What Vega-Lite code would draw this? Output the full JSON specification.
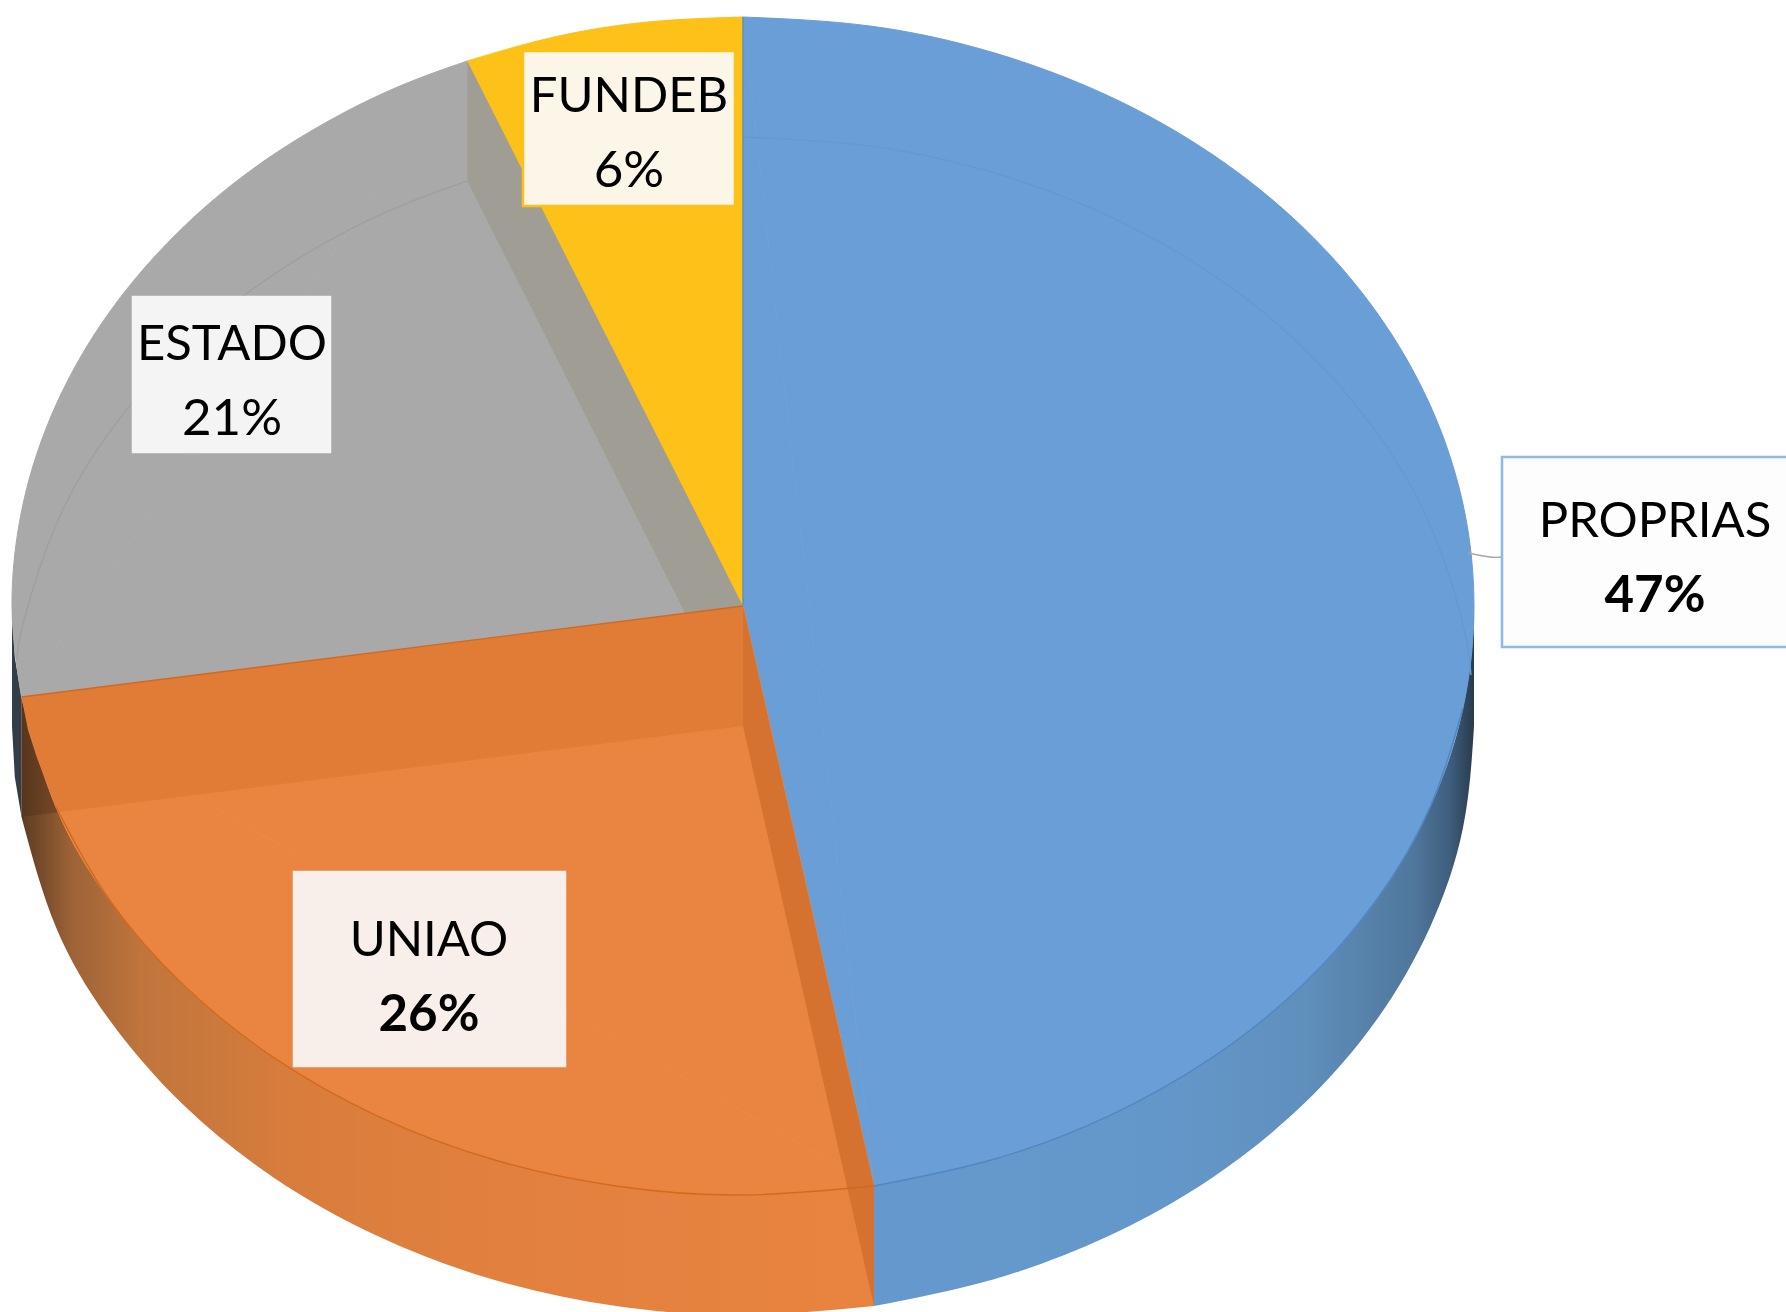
{"$schema":"https://vega.github.io/schema/vega-lite/v6.json","width":1786,"height":1312,"autosize":{"type":"none"},"padding":0,"background":"#ffffff","config":{"view":{"stroke":null}},
"resolve":{"scale":{"fill":"independent","stroke":"independent"}},
"datasets":{
"walls":[
{"part":"ESTADO","x":12,"y":606,"y2":726},{"part":"ESTADO","x":14.8,"y":657,"y2":777},{"part":"ESTADO","x":21.5,"y":697,"y2":817},
{"part":"UNIAO","x":21.5,"y":697,"y2":817},{"part":"UNIAO","x":56.1,"y":807.4,"y2":927.4},{"part":"UNIAO","x":109.9,"y":900.5,"y2":1020.5},{"part":"UNIAO","x":183,"y":984.6,"y2":1104.6},{"part":"UNIAO","x":273.1,"y":1057.2,"y2":1177.2},{"part":"UNIAO","x":377.5,"y":1116.1,"y2":1236.1},{"part":"UNIAO","x":493,"y":1159.5,"y2":1279.5},{"part":"UNIAO","x":616.1,"y":1186,"y2":1306},{"part":"UNIAO","x":743,"y":1195,"y2":1315},{"part":"UNIAO","x":874,"y":1186,"y2":1306},
{"part":"PROPRIAS","x":874,"y":1186,"y2":1306},{"part":"PROPRIAS","x":993,"y":1159.5,"y2":1279.5},{"part":"PROPRIAS","x":1108.5,"y":1116.1,"y2":1236.1},{"part":"PROPRIAS","x":1212.9,"y":1057.2,"y2":1177.2},{"part":"PROPRIAS","x":1303,"y":984.6,"y2":1104.6},{"part":"PROPRIAS","x":1376.1,"y":900.5,"y2":1020.5},{"part":"PROPRIAS","x":1429.9,"y":807.4,"y2":927.4},{"part":"PROPRIAS","x":1462.9,"y":708.3,"y2":828.3},{"part":"PROPRIAS","x":1474,"y":606,"y2":726}],
"arcs":[
{"part":"PROPRIAS","seq":1,"x":743,"y":17},{"part":"PROPRIAS","seq":2,"x":869.9,"y":26},{"part":"PROPRIAS","seq":3,"x":993,"y":52.5},{"part":"PROPRIAS","seq":4,"x":1108.5,"y":95.9},{"part":"PROPRIAS","seq":5,"x":1212.9,"y":154.8},{"part":"PROPRIAS","seq":6,"x":1303,"y":227.4},{"part":"PROPRIAS","seq":7,"x":1376.1,"y":311.5},{"part":"PROPRIAS","seq":8,"x":1429.9,"y":404.6},{"part":"PROPRIAS","seq":9,"x":1462.9,"y":503.7},{"part":"PROPRIAS","seq":10,"x":1474,"y":606},{"part":"PROPRIAS","seq":11,"x":1462.9,"y":708.3},{"part":"PROPRIAS","seq":12,"x":1429.9,"y":807.4},{"part":"PROPRIAS","seq":13,"x":1376.1,"y":900.5},{"part":"PROPRIAS","seq":14,"x":1303,"y":984.6},{"part":"PROPRIAS","seq":15,"x":1212.9,"y":1057.2},{"part":"PROPRIAS","seq":16,"x":1108.5,"y":1116.1},{"part":"PROPRIAS","seq":17,"x":993,"y":1159.5},{"part":"PROPRIAS","seq":18,"x":874,"y":1186},
{"part":"UNIAO","seq":1,"x":874,"y":1186},{"part":"UNIAO","seq":2,"x":743,"y":1195},{"part":"UNIAO","seq":3,"x":616.1,"y":1186},{"part":"UNIAO","seq":4,"x":493,"y":1159.5},{"part":"UNIAO","seq":5,"x":377.5,"y":1116.1},{"part":"UNIAO","seq":6,"x":273.1,"y":1057.2},{"part":"UNIAO","seq":7,"x":183,"y":984.6},{"part":"UNIAO","seq":8,"x":109.9,"y":900.5},{"part":"UNIAO","seq":9,"x":56.1,"y":807.4},{"part":"UNIAO","seq":10,"x":21.5,"y":697},
{"part":"ESTADO","seq":1,"x":21.5,"y":697},{"part":"ESTADO","seq":2,"x":12,"y":606},{"part":"ESTADO","seq":3,"x":23.1,"y":503.7},{"part":"ESTADO","seq":4,"x":56.1,"y":404.6},{"part":"ESTADO","seq":5,"x":109.9,"y":311.5},{"part":"ESTADO","seq":6,"x":183,"y":227.4},{"part":"ESTADO","seq":7,"x":273.1,"y":154.8},{"part":"ESTADO","seq":8,"x":377.5,"y":95.9},{"part":"ESTADO","seq":9,"x":467.3,"y":61},
{"part":"FUNDEB","seq":1,"x":467.3,"y":61},{"part":"FUNDEB","seq":2,"x":553.8,"y":37.1},{"part":"FUNDEB","seq":3,"x":647.6,"y":22},{"part":"FUNDEB","seq":4,"x":743,"y":17}],
"wedges":[
{"part":"PROPRIAS","seq":1,"x":743,"y":606},{"part":"PROPRIAS","seq":2,"x":743,"y":17},{"part":"PROPRIAS","seq":3,"x":874,"y":1186},
{"part":"UNIAO","seq":1,"x":743,"y":606},{"part":"UNIAO","seq":2,"x":874,"y":1186},{"part":"UNIAO","seq":3,"x":21.5,"y":697},
{"part":"ESTADO","seq":1,"x":743,"y":606},{"part":"ESTADO","seq":2,"x":21.5,"y":697},{"part":"ESTADO","seq":3,"x":467.3,"y":61},
{"part":"FUNDEB","seq":1,"x":743,"y":606},{"part":"FUNDEB","seq":2,"x":467.3,"y":61},{"part":"FUNDEB","seq":3,"x":743,"y":17}],
"strips":[
{"part":"UNIAO band","seq":1,"x":743,"y":606},{"part":"UNIAO band","seq":2,"x":21.5,"y":697},{"part":"UNIAO band","seq":3,"x":28,"y":730},{"part":"UNIAO band","seq":4,"x":37,"y":758},{"part":"UNIAO band","seq":5,"x":56.1,"y":807.4},{"part":"UNIAO band","seq":6,"x":60,"y":812},{"part":"UNIAO band","seq":7,"x":743,"y":726},
{"part":"UNIAO edge","seq":1,"x":743,"y":606},{"part":"UNIAO edge","seq":2,"x":874,"y":1186},{"part":"UNIAO edge","seq":3,"x":874,"y":1306},{"part":"UNIAO edge","seq":4,"x":743,"y":726},
{"part":"ESTADO edge","seq":1,"x":467.3,"y":61},{"part":"ESTADO edge","seq":2,"x":467.3,"y":181},{"part":"ESTADO edge","seq":3,"x":685,"y":613},{"part":"ESTADO edge","seq":4,"x":743,"y":606}],
"shade":[{"part":"UNIAO shade","seq":1,"x":21.5,"y":697},{"part":"UNIAO shade","seq":2,"x":56.1,"y":807.4},{"part":"UNIAO shade","seq":3,"x":60,"y":812},{"part":"UNIAO shade","seq":4,"x":21.5,"y":817}],
"edges":[
{"part":"rear blue","seq":1,"x":743,"y":137},{"part":"rear blue","seq":2,"x":869.9,"y":146},{"part":"rear blue","seq":3,"x":993,"y":172.5},{"part":"rear blue","seq":4,"x":1108.5,"y":215.9},{"part":"rear blue","seq":5,"x":1212.9,"y":274.8},{"part":"rear blue","seq":6,"x":1303,"y":347.4},{"part":"rear blue","seq":7,"x":1376.1,"y":431.5},{"part":"rear blue","seq":8,"x":1429.9,"y":524.6},{"part":"rear blue","seq":9,"x":1462.9,"y":623.7},{"part":"rear blue","seq":10,"x":1471,"y":675},
{"part":"rear gray","seq":1,"x":467.3,"y":181},{"part":"rear gray","seq":2,"x":377.5,"y":215.9},{"part":"rear gray","seq":3,"x":273.1,"y":274.8},{"part":"rear gray","seq":4,"x":183,"y":347.4},{"part":"rear gray","seq":5,"x":109.9,"y":431.5},{"part":"rear gray","seq":6,"x":56.1,"y":524.6},{"part":"rear gray","seq":7,"x":23.1,"y":623.7},{"part":"rear gray","seq":8,"x":17,"y":660},
{"part":"front blue","seq":1,"x":874,"y":1186},{"part":"front blue","seq":2,"x":993,"y":1159.5},{"part":"front blue","seq":3,"x":1108.5,"y":1116.1},{"part":"front blue","seq":4,"x":1212.9,"y":1057.2},{"part":"front blue","seq":5,"x":1303,"y":984.6},{"part":"front blue","seq":6,"x":1376.1,"y":900.5},{"part":"front blue","seq":7,"x":1429.9,"y":807.4},{"part":"front blue","seq":8,"x":1462.9,"y":708.3},
{"part":"front orange","seq":1,"x":874,"y":1186},{"part":"front orange","seq":2,"x":743,"y":1195},{"part":"front orange","seq":3,"x":616.1,"y":1186},{"part":"front orange","seq":4,"x":493,"y":1159.5},{"part":"front orange","seq":5,"x":377.5,"y":1116.1},{"part":"front orange","seq":6,"x":273.1,"y":1057.2},{"part":"front orange","seq":7,"x":183,"y":984.6},{"part":"front orange","seq":8,"x":109.9,"y":900.5},{"part":"front orange","seq":9,"x":56.1,"y":807.4},
{"part":"seam orange","seq":1,"x":21.5,"y":697},{"part":"seam orange","seq":2,"x":743,"y":606},
{"part":"seam blue","seq":1,"x":743,"y":17},{"part":"seam blue","seq":2,"x":743,"y":606},
{"part":"leader","seq":1,"x":1468,"y":553},{"part":"leader","seq":2,"x":1490,"y":557},{"part":"leader","seq":3,"x":1502,"y":557}],
"labels":[
{"name":"PROPRIAS","share":"47%","bold":true,"x":1502,"x2":1792,"y":457,"y2":647,"cx":1655,"nameY":537,"shareY":612},
{"name":"UNIAO","share":"26%","bold":true,"x":294,"x2":565,"y":872,"y2":1066,"cx":429,"nameY":956,"shareY":1031},
{"name":"ESTADO","share":"21%","bold":false,"x":133,"x2":330,"y":297,"y2":452,"cx":232,"nameY":360,"shareY":435},
{"name":"FUNDEB","share":"6%","bold":false,"x":523,"x2":735,"y":51,"y2":206,"cx":629,"nameY":112,"shareY":187}]
},
"encoding":{"x":{"field":"x","type":"quantitative","scale":{"domain":[0,1786],"nice":false,"zero":false},"axis":null},"y":{"field":"y","type":"quantitative","scale":{"domain":[0,1312],"reverse":true,"nice":false,"zero":false},"axis":null}},
"layer":[
{"data":{"name":"walls"},"transform":[{"filter":"datum.part==='ESTADO'"}],"mark":{"type":"area","color":"#333d47"},"encoding":{"y2":{"field":"y2"}}},
{"data":{"name":"walls"},"transform":[{"filter":"datum.part==='UNIAO'"}],"mark":{"type":"area","interpolate":"natural","color":{"gradient":"linear","x1":0,"y1":0,"x2":1,"y2":0,"stops":[{"offset":0,"color":"#5d3c22"},{"offset":0.057,"color":"#9c6236"},{"offset":0.14,"color":"#c0753d"},{"offset":0.325,"color":"#d97d3c"},{"offset":0.56,"color":"#e2803e"},{"offset":1,"color":"#e8843f"}]}},"encoding":{"y2":{"field":"y2"}}},
{"data":{"name":"walls"},"transform":[{"filter":"datum.part==='PROPRIAS'"}],"mark":{"type":"area","interpolate":"natural","color":{"gradient":"linear","x1":0,"y1":0,"x2":1,"y2":0,"stops":[{"offset":0,"color":"#6598cc"},{"offset":0.5,"color":"#6497c9"},{"offset":0.72,"color":"#5f8fbc"},{"offset":0.9,"color":"#50779c"},{"offset":0.96,"color":"#3e5e7d"},{"offset":1,"color":"#2a3a4c"}]}},"encoding":{"y2":{"field":"y2"}}},
{"data":{"name":"shade"},"mark":{"type":"line","fill":"#4a2c14","strokeWidth":0,"opacity":0.35},"encoding":{"detail":{"field":"part"},"order":{"field":"seq"}}},
{"data":{"name":"arcs"},"mark":{"type":"line","interpolate":"natural","strokeWidth":1},"encoding":{"detail":{"field":"part"},"order":{"field":"seq"},"fill":{"field":"part","scale":{"domain":["PROPRIAS","UNIAO","ESTADO","FUNDEB"],"range":["#6a9ed6","#e98540","#a9a9a9","#fdc118"]},"legend":null},"stroke":{"field":"part","scale":{"domain":["PROPRIAS","UNIAO","ESTADO","FUNDEB"],"range":["#6a9ed6","#e98540","#a9a9a9","#fdc118"]},"legend":null}}},
{"data":{"name":"wedges"},"mark":{"type":"line","strokeWidth":1},"encoding":{"detail":{"field":"part"},"order":{"field":"seq"},"fill":{"field":"part","scale":{"domain":["PROPRIAS","UNIAO","ESTADO","FUNDEB"],"range":["#6a9ed6","#e98540","#a9a9a9","#fdc118"]},"legend":null},"stroke":{"field":"part","scale":{"domain":["PROPRIAS","UNIAO","ESTADO","FUNDEB"],"range":["#6a9ed6","#e98540","#a9a9a9","#fdc118"]},"legend":null}}},
{"data":{"name":"strips"},"mark":{"type":"line","strokeWidth":0},"encoding":{"detail":{"field":"part"},"order":{"field":"seq"},"fill":{"field":"part","scale":{"domain":["UNIAO band","UNIAO edge","ESTADO edge"],"range":["#e07c36","#d5722f","#a09e94"]},"legend":null}}},
{"data":{"name":"edges"},"mark":{"type":"line","interpolate":"natural","strokeWidth":1.4},"encoding":{"detail":{"field":"part"},"order":{"field":"seq"},"stroke":{"field":"part","scale":{"domain":["rear blue","rear gray","front blue","front orange","seam orange","seam blue","leader"],"range":["#629ad2","#9f9f9f","#4f87c4","#d2691f","#d2691f","#5f90b8","#a6a6a6"]},"legend":null}}},
{"data":{"name":"labels"},"mark":{"type":"rect","color":"#000000","opacity":0.08,"xOffset":5,"yOffset":7,"clip":true},"encoding":{"x2":{"field":"x2"},"y2":{"field":"y2"}}},
{"data":{"name":"labels"},"mark":{"type":"rect","color":"#000000","opacity":0.1,"xOffset":2,"yOffset":4,"clip":true},"encoding":{"x2":{"field":"x2"},"y2":{"field":"y2"}}},
{"data":{"name":"labels"},"mark":{"type":"rect","strokeWidth":2.5,"clip":true},"encoding":{"x2":{"field":"x2"},"y2":{"field":"y2"},"fill":{"field":"name","scale":{"domain":["PROPRIAS","UNIAO","ESTADO","FUNDEB"],"range":["#fdfdfd","#f9efea","#f4f4f4","#fbf6e8"]},"legend":null},"stroke":{"field":"name","scale":{"domain":["PROPRIAS","UNIAO","ESTADO","FUNDEB"],"range":["#8db9e5","#f9efea","#f4f4f4","#fdc118"]},"legend":null}}},
{"data":{"name":"labels"},"mark":{"type":"text","font":"Lato","fontSize":49,"align":"center","baseline":"alphabetic","color":"#000000"},"encoding":{"x":{"field":"cx","type":"quantitative"},"y":{"field":"nameY","type":"quantitative"},"text":{"field":"name"}}},
{"data":{"name":"labels"},"transform":[{"filter":"datum.bold"}],"mark":{"type":"text","font":"Lato","fontSize":51,"fontWeight":"bold","align":"center","baseline":"alphabetic","color":"#000000"},"encoding":{"x":{"field":"cx","type":"quantitative"},"y":{"field":"shareY","type":"quantitative"},"text":{"field":"share"}}},
{"data":{"name":"labels"},"transform":[{"filter":"!datum.bold"}],"mark":{"type":"text","font":"Lato","fontSize":51,"align":"center","baseline":"alphabetic","color":"#000000"},"encoding":{"x":{"field":"cx","type":"quantitative"},"y":{"field":"shareY","type":"quantitative"},"text":{"field":"share"}}}
]}
